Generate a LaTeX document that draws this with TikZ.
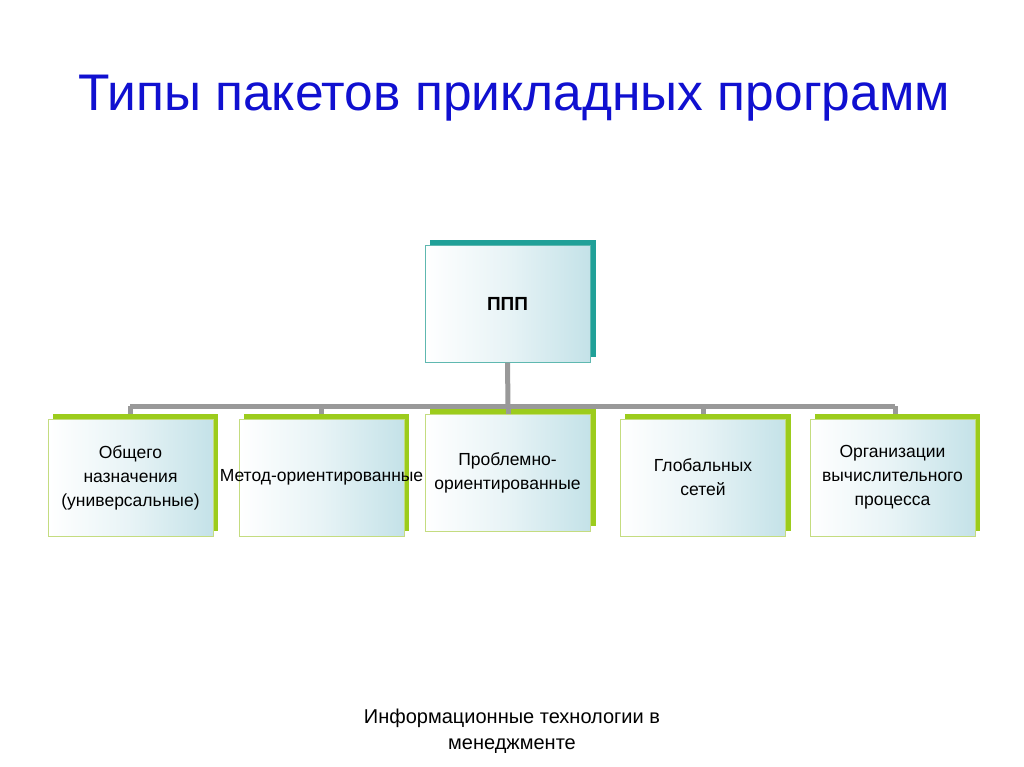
\documentclass[tikz,border=0pt]{standalone}
\usepackage{fontspec}
\setmainfont{Liberation Sans}
\definecolor{TitleBlue}{HTML}{1010D0}
\definecolor{RootBack}{HTML}{20A098}
\definecolor{LeafBack}{HTML}{9CCC1C}
\definecolor{RootLine}{HTML}{5FB8B0}
\definecolor{LeafLine}{HTML}{C4DC80}
\definecolor{BoxTint}{HTML}{C4E2E8}
\definecolor{Bar}{HTML}{999999}
\tikzset{
  card/.style={minimum width=165pt, minimum height=117pt, align=center,
    text width=161pt, font=\fontsize{17.5}{24}\selectfont, inner sep=2pt,
    left color=white, right color=BoxTint, middle color=white!60!BoxTint, draw},
  bar/.style={draw=Bar, line width=5pt},
}
\begin{document}
\begin{tikzpicture}[x=1pt,y=-1pt]
\useasboundingbox (0,0) rectangle (1024,767);
\fill[white] (0,0) rectangle (1024,767);
\node[text=TitleBlue, font=\fontsize{51.5}{55}\selectfont] (title) at (514,98) {Типы пакетов прикладных программ};
% back plates
\fill[RootBack] (430,240) rectangle (596,357);
\fill[LeafBack] (53,414) rectangle (218,531);
\fill[LeafBack] (244,414) rectangle (409,531);
\fill[LeafBack] (430,409) rectangle (596,526);
\fill[LeafBack] (625,414) rectangle (791,531);
\fill[LeafBack] (815,414) rectangle (980,531);
% connectors
\coordinate (hub) at (508,406);
\coordinate (hl) at (130,406);
\coordinate (hr) at (895,406);
\draw[bar] (hl) -- (hr);
\foreach \x in {130,321,508,703,895} \draw[bar] (\x,406) -- (\x,414);
% cards
\node[card, draw=RootLine] (root) at (507.5,304) {\fontsize{19}{24}\selectfont\textbf{ППП}};
\node[card, draw=LeafLine] (general) at (130.5,477.5) {Общего назначения\\(универсальные)};
\node[card, draw=LeafLine] (method) at (321.5,477.5) {\makebox[161pt]{Метод-ориентированные}};
\node[card, draw=LeafLine] (problem) at (507.5,472.5) {Проблемно-\\ориентированные};
\node[card, draw=LeafLine] (network) at (703,477.5) {Глобальных\\сетей};
\node[card, draw=LeafLine] (process) at (892.5,477.5) {Организации\\вычислительного\\процесса};
\draw[bar] (root.south) -- (hub);
\node[font=\fontsize{20}{26}\selectfont, align=center] (footer) at (512,731) {Информационные технологии в\\менеджменте};
\end{tikzpicture}
\end{document}
